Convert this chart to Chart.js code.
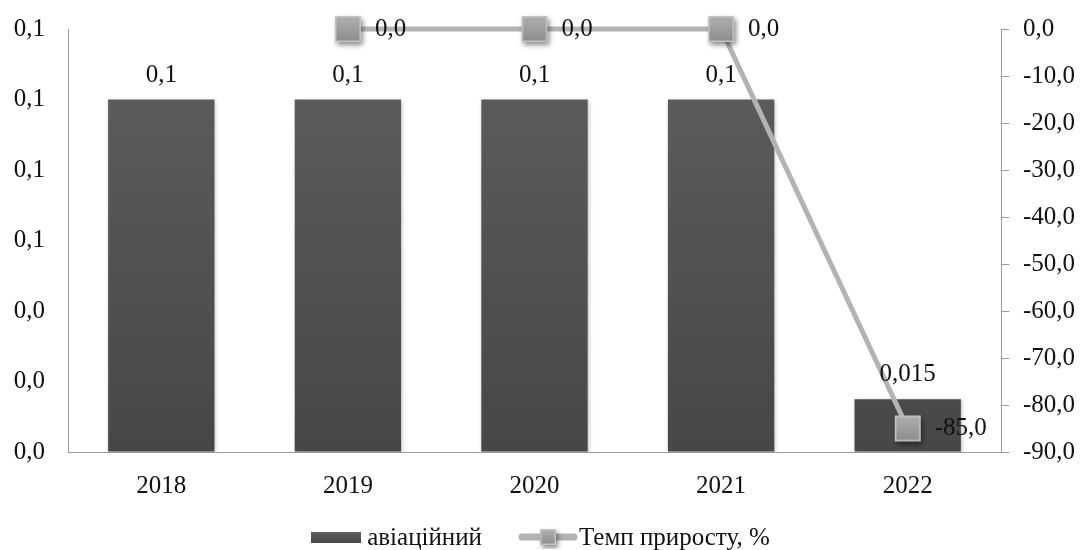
<!DOCTYPE html>
<html>
<head>
<meta charset="utf-8">
<script src="https://cdn.jsdelivr.net/npm/chart.js@4"></script>
<style>
  body { margin: 0; background: #fff; }
  .wrap { position: relative; width: 1081px; height: 550px; }
  canvas { display: block; }
  .legend {
    position: absolute; left: 0; top: 522px; width: 1081px; height: 30px;
    display: flex; justify-content: center; align-items: center;
    font-family: 'Liberation Serif'; font-size: 25px; color: #111;
  }
  .legend .swatch {
    width: 50px; height: 11px; margin-right: 6px;
    background: linear-gradient(#5f5f5f, #474747);
  }
  .legend .gap { width: 36px; }
  .legend canvas { margin-right: 1px; }
</style>
</head>
<body>
<div class="wrap">
  <canvas id="chart" width="1081" height="550"></canvas>
  <div class="legend">
    <div class="swatch"></div><span id="name0"></span>
    <div class="gap"></div>
    <canvas id="lineKey" width="60" height="24"></canvas><span id="name1"></span>
  </div>
</div>
<script>
const years = ['2018', '2019', '2020', '2021', '2022'];
const aviation = [0.1, 0.1, 0.1, 0.1, 0.015];
const growthRate = [null, 0, 0, 0, -85];
const seriesNames = ['авіаційний', 'Темп приросту, %'];

const FONT = 'Liberation Serif';
const FONT_SIZE = 25;
const LINE_COLOR = '#b3b3b3';

const comma = (s) => s.replace('.', ',');

// square marker with a soft drop shadow, used as pointStyle
function makeMarker(side) {
    const pad = 8;
    const c = document.createElement('canvas');
    c.width = c.height = side + pad * 2;
    const g = c.getContext('2d');
    g.shadowColor = 'rgba(0,0,0,0.45)';
    g.shadowBlur = 5;
    g.shadowOffsetX = 2;
    g.shadowOffsetY = 3;
    const grad = g.createLinearGradient(0, pad, 0, pad + side);
    grad.addColorStop(0, '#b0b0b0');
    grad.addColorStop(1, '#8c8c8c');
    g.fillStyle = grad;
    g.fillRect(pad, pad, side, side);
    g.shadowColor = 'transparent';
    g.strokeStyle = '#c4c4c4';
    g.lineWidth = 1.5;
    g.strokeRect(pad + 0.75, pad + 0.75, side - 1.5, side - 1.5);
    return c;
}
const marker = makeMarker(26);

// legend: names plus the line key (line with a small marker)
document.getElementById('name0').textContent = seriesNames[0];
document.getElementById('name1').textContent = seriesNames[1];
(function drawLineKey() {
    const key = document.getElementById('lineKey');
    const g = key.getContext('2d');
    g.strokeStyle = LINE_COLOR;
    g.lineWidth = 7;
    g.lineCap = 'round';
    g.beginPath();
    g.moveTo(4, 12);
    g.lineTo(56, 12);
    g.stroke();
    const m = makeMarker(16);
    g.drawImage(m, 30 - m.width / 2, 12 - m.height / 2);
})();

function barGradient(ctx, top, bottom) {
    const grad = ctx.createLinearGradient(0, top, 0, bottom);
    grad.addColorStop(0, '#5f5f5f');
    grad.addColorStop(1, '#474747');
    return grad;
}

const valueLabels = {
    id: 'valueLabels',
    afterDatasetsDraw(chart) {
        const ctx = chart.ctx;
        ctx.save();
        ctx.font = FONT_SIZE + 'px "' + FONT + '"';
        ctx.fillStyle = '#111';
        chart.getDatasetMeta(1).data.forEach((bar, i) => {
            ctx.textAlign = 'center';
            ctx.textBaseline = 'alphabetic';
            ctx.fillText(comma(String(aviation[i])), bar.x, bar.y - 18);
        });
        chart.getDatasetMeta(0).data.forEach((pt, i) => {
            if (growthRate[i] === null) return;
            ctx.textAlign = 'left';
            ctx.textBaseline = 'middle';
            ctx.fillText(comma(growthRate[i].toFixed(1)), pt.x + 27, pt.y);
        });
        ctx.restore();
    }
};

const barShadow = {
    id: 'barShadow',
    beforeDatasetDraw(chart, args) {
        if (args.meta.type !== 'bar') return;
        const ctx = chart.ctx;
        ctx.save();
        ctx.shadowColor = 'rgba(0,0,0,0.25)';
        ctx.shadowBlur = 4;
        ctx.shadowOffsetX = 1;
        ctx.shadowOffsetY = 1;
    },
    afterDatasetDraw(chart, args) {
        if (args.meta.type !== 'bar') return;
        chart.ctx.restore();
    }
};

// keep tick label padding from pushing the plot area down
function fixWidth(w) {
    return (scale) => {
        scale.width = w;
        scale.paddingTop = 0;
        scale.paddingBottom = 0;
    };
}

new Chart(document.getElementById('chart'), {
    data: {
        labels: years,
        datasets: [{
            type: 'line',
            label: seriesNames[1],
            data: growthRate,
            yAxisID: 'yRight',
            borderColor: LINE_COLOR,
            borderWidth: 5,
            pointStyle: marker,
            spanGaps: false,
            clip: false,
            order: 0,
        }, {
            type: 'bar',
            label: seriesNames[0],
            data: aviation,
            yAxisID: 'yLeft',
            backgroundColor: (c) => {
                const area = c.chart.chartArea;
                if (!area) return '#555';
                return barGradient(c.chart.ctx, area.top, area.bottom);
            },
            categoryPercentage: 1,
            barPercentage: 0.57,
            order: 1,
        }],
    },
    options: {
        responsive: false,
        animation: false,
        layout: { padding: { top: 29, left: 0, right: 0, bottom: 0 } },
        plugins: {
            legend: { display: false },
            tooltip: { enabled: false },
        },
        scales: {
            x: {
                offset: true,
                grid: { display: true, drawOnChartArea: false, drawTicks: false },
                border: { color: '#999' },
                ticks: { color: '#111', padding: 19, font: { family: FONT, size: FONT_SIZE } },
                afterFit(scale) { scale.height = 98; },
            },
            yLeft: {
                position: 'left',
                min: 0,
                max: 0.12,
                grid: { display: true, drawOnChartArea: false, drawTicks: false },
                border: { color: '#999' },
                ticks: {
                    stepSize: 0.02,
                    padding: 23,
                    color: '#111',
                    font: { family: FONT, size: FONT_SIZE },
                    callback: (v) => comma(v.toFixed(1)),
                },
                afterFit: fixWidth(68),
            },
            yRight: {
                position: 'right',
                min: -90,
                max: 0,
                grid: { display: true, drawOnChartArea: false, drawTicks: true, tickLength: 8, color: '#999' },
                border: { color: '#999' },
                ticks: {
                    stepSize: 10,
                    padding: 14,
                    color: '#111',
                    font: { family: FONT, size: FONT_SIZE },
                    callback: (v) => comma(v.toFixed(1)),
                },
                afterFit: fixWidth(80),
            },
        },
    },
    plugins: [barShadow, valueLabels],
});
</script>
</body>
</html>
